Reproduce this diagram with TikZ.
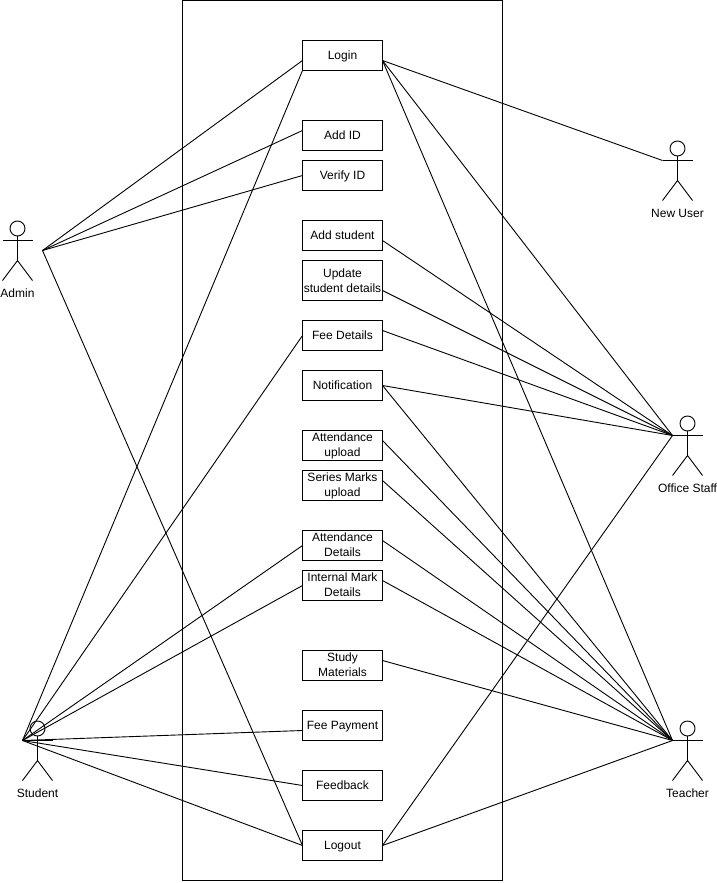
\documentclass[tikz,border=0pt]{standalone}
\usepackage{fontspec}
\setmainfont{Liberation Sans}
\usetikzlibrary{positioning}

\tikzset{
  usecase/.style={draw, rectangle, minimum width=80pt, minimum height=30pt, inner sep=0pt, outer sep=0pt, align=center,
    execute at begin node=\rule{0pt}{11.5pt}, execute at end node=\rule[-3.5pt]{0pt}{3.5pt}},
  twolines/.style={text height=#1, text depth=4pt},
  twolines/.default=25pt,
  actorlabel/.style={inner sep=0pt, execute at begin node=\strut},
  actorfig/.pic={
    \draw (15,8) circle (7.5);
    \draw (0,20) -- (30,20);
    \draw (15,15.5) -- (15,40);
    \draw (0,60) -- (15,40) -- (30,60);
  }
}

\begin{document}
\begin{tikzpicture}[x=1pt, y=-1pt, line width=0.9pt, font=\fontsize{12}{15}\selectfont]
    \useasboundingbox (0,0) rectangle (717,883);

    % system boundary
    \draw (182.5,0.5) rectangle (502.5,880.5);

    % use cases
    \node [usecase] (login)    at (342.5,55.5)  {Login};
    \node [usecase] (addid)    at (342.5,135.5) {Add ID};
    \node [usecase] (verify)   at (342.5,175.5) {Verify ID};
    \node [usecase] (addstud)  at (342.5,235.5) {Add student};
    \node [usecase, twolines=27pt, minimum height=40pt] (update) at (342.5,280.5) {Update\\student details};
    \node [usecase] (fee)      at (342.5,335.5) {Fee Details};
    \node [usecase] (notif)    at (342.5,385.5) {Notification};
    \node [usecase, twolines] (attup)    at (342.5,445.5) {Attendance\\upload};
    \node [usecase, twolines] (series)   at (342.5,485.5) {Series Marks\\upload};
    \node [usecase, twolines] (attdet)   at (342.5,545.5) {Attendance\\Details};
    \node [usecase, twolines] (internal) at (342.5,585.5) {Internal Mark\\Details};
    \node [usecase, twolines] (study)    at (342.5,665.5) {Study\\Materials};
    \node [usecase] (payment)  at (342.5,725.5) {Fee Payment};
    \node [usecase] (feedback) at (342.5,785.5) {Feedback};
    \node [usecase] (logout)   at (342.5,845.5) {Logout};

    % actors
    \pic at (2.5,220.5)   {actorfig};
    \pic at (22.5,720.5)  {actorfig};
    \pic at (662.5,140.5) {actorfig};
    \pic at (672.5,415.5) {actorfig};
    \pic at (672.5,720.5) {actorfig};

    \node [actorlabel] (admin)   at (17.5,294.8)  {Admin};
    \node [actorlabel] (student) at (37.5,794.8)  {Student};
    \node [actorlabel] (newuser) at (677.5,214.8) {New User};
    \node [actorlabel] (office)  at (687.5,489.8) {Office Staff};
    \node [actorlabel] (teacher) at (687.5,794.8) {Teacher};

    % line ends at the actors
    \coordinate (adminpt)   at (42.5,250.5);
    \coordinate (studentpt) at (22.5,740.5);
    \coordinate (newpt)     at (662.5,160.5);
    \coordinate (officept)  at (672.5,435.5);
    \coordinate (teachpt)   at (672.5,740.5);

    % the second value moves the line end up or down the box side
    \foreach \uc/\dy in {login/-5, addid/5, verify/0, logout/0}
      \draw (adminpt) -- ([yshift=\dy pt]\uc.west);
    \foreach \uc/\dy in {login/-15, fee/0, attdet/0, internal/0, payment/-5, feedback/0, logout/0}
      \draw (studentpt) -- ([yshift=\dy pt]\uc.west);
    \draw ([yshift=-5pt]login.east) -- (newpt);
    \foreach \uc/\dy in {login/-5, addstud/-5, update/-10, fee/5, notif/0, logout/0}
      \draw ([yshift=\dy pt]\uc.east) -- (officept);
    \foreach \uc/\dy in {login/-5, notif/0, attup/5, series/5, attdet/5, internal/5, study/5, logout/0}
      \draw ([yshift=\dy pt]\uc.east) -- (teachpt);
\end{tikzpicture}
\end{document}
